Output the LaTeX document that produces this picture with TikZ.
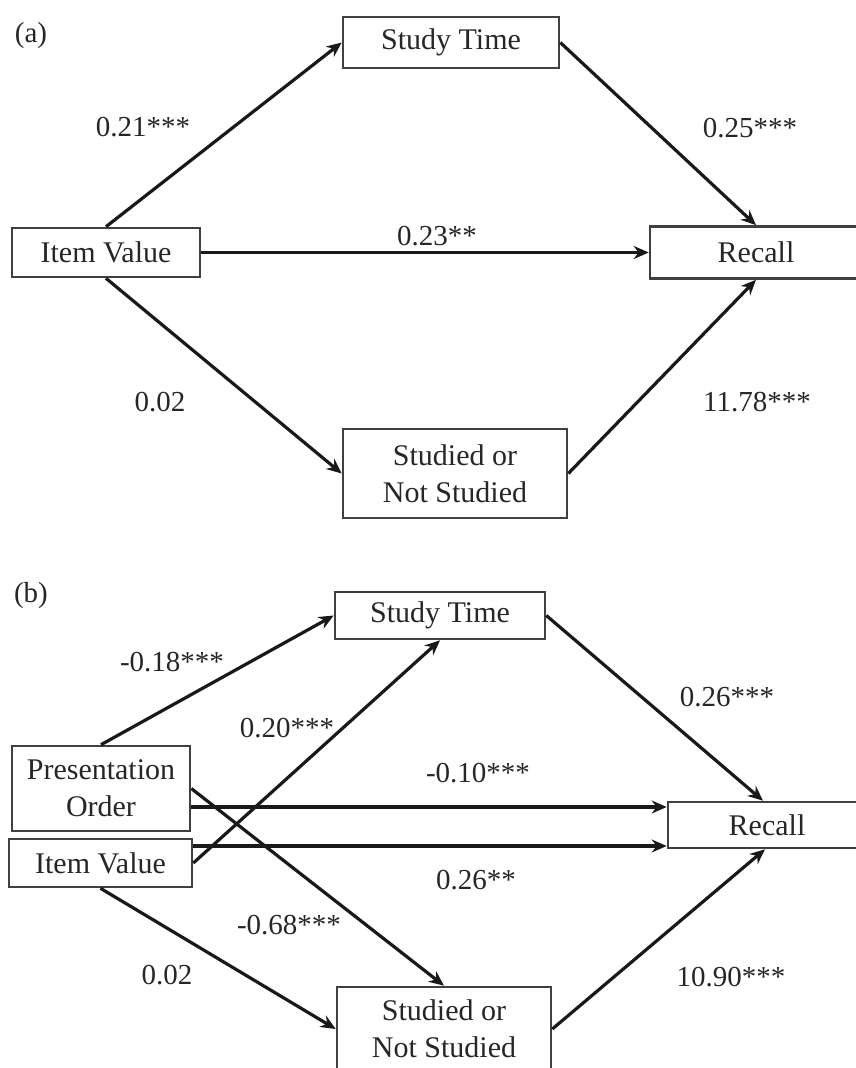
\documentclass[tikz,border=0pt]{standalone}
\usepackage{fontspec}
\setmainfont{Liberation Serif}
\usetikzlibrary{arrows.meta}
\begin{document}
\begin{tikzpicture}[x=1pt,y=-1pt,
  box/.style={draw=black!75,line width=2.6pt,rectangle,inner sep=0pt,align=center,text=black!85,font=\fontsize{30}{37}\selectfont},
  lbl/.style={inner sep=0pt,text=black!85,font=\fontsize{29}{34}\selectfont},
  conn/.style={line width=3.2pt,black!90,-{Stealth[length=15pt,width=13pt]}}]
\useasboundingbox (0,0) rectangle (856,1068);
% panel (a)
\node[lbl] (la) at (31,36) {(a)};
\node[box,minimum width=216pt,minimum height=51pt] (sta) at (451,42.5) {Study Time};
\node[box,minimum width=188pt,minimum height=49pt] (iva) at (106,252.5) {Item Value};
\node[box,minimum width=212pt,minimum height=52pt] (rca) at (756,252.5) {Recall};
\node[box,minimum width=224pt,minimum height=89pt] (sna) at (455,473.5) {Studied or\\Not Studied};
\draw[conn] (iva.north) -- (sta.west);
\draw[conn] (sta.east) -- (rca.north);
\draw[conn] (iva.east) -- (rca.west);
\draw[conn] (iva.south) -- (sna.west);
\draw[conn] (sna.east) -- (rca.south);
\node[lbl] (a1) at (143,127) {0.21***};
\node[lbl] (a2) at (750,128) {0.25***};
\node[lbl] (a3) at (437,236) {0.23**};
\node[lbl] (a4) at (160,402) {0.02};
\node[lbl] (a5) at (757,402) {11.78***};
% panel (b)
\node[lbl] (lb) at (31,596) {(b)};
\node[box,minimum width=210pt,minimum height=47pt] (stb) at (440,615.5) {Study Time};
\node[box,minimum width=178pt,minimum height=85pt] (po) at (101,788.5) {Presentation\\Order};
\node[box,minimum width=183pt,minimum height=48pt] (ivb) at (100.5,863) {Item Value};
\node[box,minimum width=198pt,minimum height=46pt] (rcb) at (767,825) {Recall};
\node[box,minimum width=214pt,minimum height=84pt] (snb) at (444,1029) {Studied or\\Not Studied};
\coordinate (p1) at ([yshift=-18.5pt]po.east);
\coordinate (p2) at ([yshift=17pt]ivb.east);
\draw[conn] (po.north) -- (stb.west);
\draw[conn] (ivb.east) -- (stb.south);
\draw[conn] (stb.east) -- ([xshift=-4pt]rcb.north);
\draw[conn] (p1) -- (p1 -| rcb.west);
\draw[conn] (p2) -- (p2 -| rcb.west);
\draw[conn] (po.east) -- (snb.north);
\draw[conn] (ivb.south) -- (snb.west);
\draw[conn] (snb.east) -- ([xshift=-2pt]rcb.south);
\node[lbl] (b1) at (172,662) {-0.18***};
\node[lbl] (b2) at (287,728) {0.20***};
\node[lbl] (b3) at (727,697) {0.26***};
\node[lbl] (b4) at (478,773) {-0.10***};
\node[lbl] (b5) at (476,880) {0.26**};
\node[lbl] (b6) at (289,925) {-0.68***};
\node[lbl] (b7) at (167,975) {0.02};
\node[lbl] (b8) at (731,977) {10.90***};
\end{tikzpicture}
\end{document}
